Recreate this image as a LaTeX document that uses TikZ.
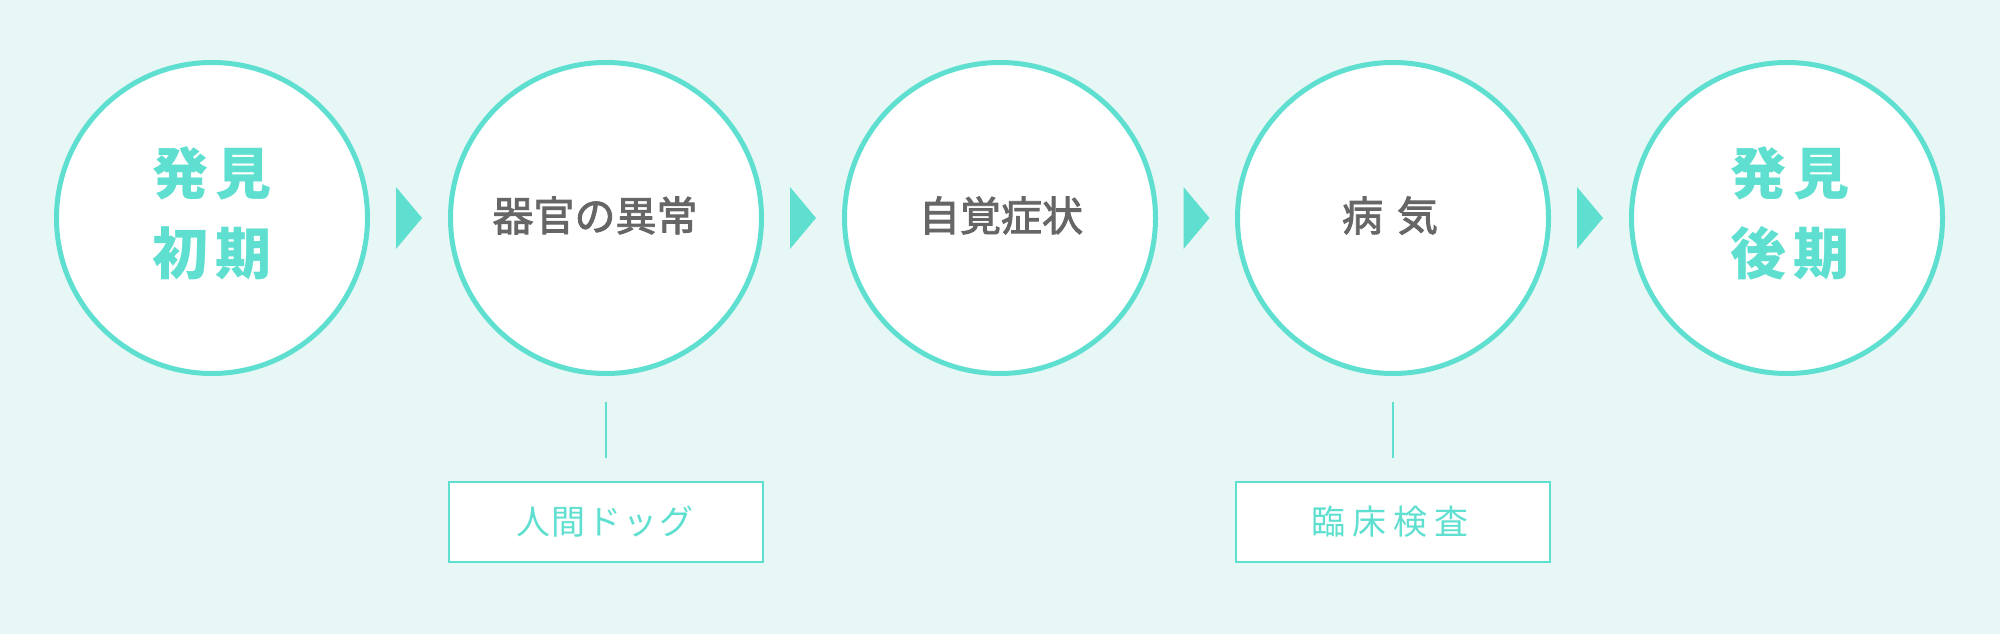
\documentclass[tikz,border=0pt]{standalone}
\usepackage{fontspec}
\newfontfamily\jp{Noto Sans CJK JP}
\newfontfamily\jpm[FakeBold=2.2]{Noto Sans CJK JP}
\usetikzlibrary{calc}
\definecolor{bgmint}{HTML}{E6F7F5}
\definecolor{teal2}{HTML}{5EDFD0}
\definecolor{graytext}{HTML}{666666}
\tikzset{
  stage/.style={circle, draw=teal2, line width=5pt, fill=white, minimum size=311pt, inner sep=0pt},
  bigtxt/.style={font=\jp\bfseries\fontsize{56pt}{56pt}\selectfont, text=teal2, anchor=base, inner sep=0pt},
  midtxt/.style={font=\jpm\fontsize{41pt}{41pt}\selectfont, text=graytext, anchor=base, inner sep=0pt},
  labbox/.style={draw=teal2, line width=2pt, fill=white, minimum width=314pt, minimum height=80pt, inner sep=0pt},
  labtxt/.style={font=\jp\fontsize{34pt}{34pt}\selectfont, text=teal2, anchor=base, inner sep=0pt},
  tick/.style={draw=teal2, line width=1.6pt}
}
\newcommand{\gapA}{\hspace{8pt}}
\begin{document}
\begin{tikzpicture}[x=1pt,y=-1pt]
\fill[bgmint] (0,0) rectangle (2000,634);
\useasboundingbox (0,0) rectangle (2000,634);
\node[stage] (c1) at (212,218) {};
\node[stage] (c2) at (606,218) {};
\node[stage] (c3) at (1000,218) {};
\node[stage] (c4) at (1393,218) {};
\node[stage] (c5) at (1787,218) {};
% texts (base anchors)
\node[bigtxt] (t1a) at (212,194) {発\gapA 見};
\node[bigtxt] (t1b) at (212,274) {初\gapA 期};
\node[midtxt] (t2) at (595,231) {器官の異常};
\node[midtxt] (t3) at (1001,231) {自覚症状};
\node[midtxt] (t4) at (1390,231) {病\hspace{14pt}気};
\node[bigtxt] (t5a) at (1790,194) {発\gapA 見};
\node[bigtxt] (t5b) at (1790,274) {後\gapA 期};
% triangles
\foreach \a/\b in {c1/c2, c2/c3, c3/c4, c4/c5}{
  \coordinate (m) at ($(\a.east)!0.5!(\b.west)$);
  \fill[teal2] ($(m)+(-13,-31)$) -- ($(m)+(13,0)$) -- ($(m)+(-13,31)$) -- cycle;
}
% label boxes
\node[labbox] (b1) at (606,522) {};
\node[labbox] (b2) at (1393,522) {};
\node[labtxt] at (605,534) {人\hspace{2pt}間\hspace{2pt}ド\hspace{2pt}ッ\hspace{2pt}グ};
\node[labtxt] at (1390,534) {臨\hspace{7pt}床\hspace{7pt}検\hspace{7pt}査};
\draw[tick, shorten <=25.5pt, shorten >=23pt] (c2.south) -- (b1.north);
\draw[tick, shorten <=25.5pt, shorten >=23pt] (c4.south) -- (b2.north);
\end{tikzpicture}
\end{document}
